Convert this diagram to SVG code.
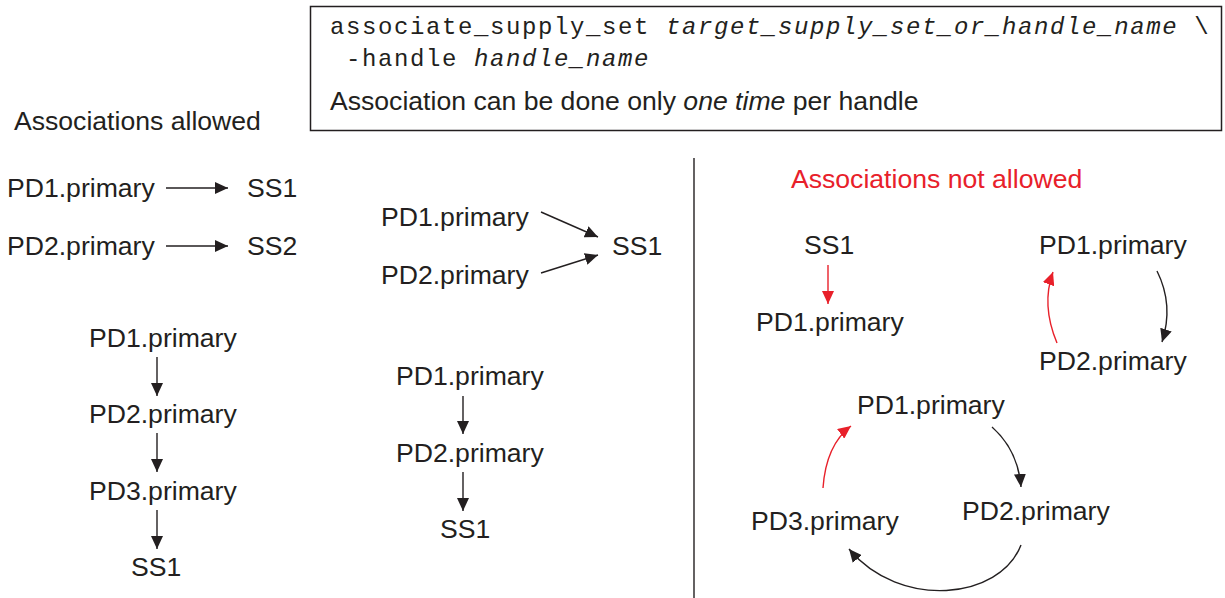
<svg xmlns="http://www.w3.org/2000/svg" width="1225" height="598" viewBox="0 0 1225 598">
<style>
.t{font-family:"Liberation Sans",Arial,sans-serif;font-size:26.6px;fill:#231f20}
.r{fill:#e8202a}
.m{font-family:"Liberation Mono","Courier New",monospace;font-size:24px;fill:#231f20;letter-spacing:1.6px}
.i{font-style:italic}
.k{fill:none;stroke:#231f20;stroke-width:1.4}
.kr{fill:none;stroke:#e8202a;stroke-width:1.4}
</style>
<defs>
<marker id="ah" markerUnits="userSpaceOnUse" markerWidth="14" markerHeight="12" viewBox="0 0 14 12" refX="13" refY="6" orient="auto"><path d="M0,0 L13,6 L0,12 z" fill="#231f20"/></marker>
<marker id="ahr" markerUnits="userSpaceOnUse" markerWidth="14" markerHeight="12" viewBox="0 0 14 12" refX="13" refY="6" orient="auto"><path d="M0,0 L13,6 L0,12 z" fill="#e8202a"/></marker>
</defs>
<rect width="1225" height="598" fill="#fff"/>
<g id="cmdbox">
<rect x="310.5" y="6.5" width="911" height="124" fill="#fff" stroke="#231f20" stroke-width="1.5"/>
<text class="m" x="330" y="34">associate_supply_set <tspan class="i">target_supply_set_or_handle_name</tspan> \</text>
<text class="m" x="346" y="66">-handle <tspan class="i">handle_name</tspan></text>
<text class="t" x="330" y="110">Association can be done only <tspan class="i">one time</tspan> per handle</text>
</g>
<text class="t" x="14" y="130">Associations allowed</text>
<text class="t r" x="791" y="188">Associations not allowed</text>
<line x1="694" y1="158" x2="694" y2="598" stroke="#231f20" stroke-width="1.4"/>
<g id="a1"><text class="t" x="7" y="197">PD1.primary</text></g>
<g id="a2"><text class="t" x="247" y="197">SS1</text></g>
<g id="a3"><text class="t" x="7" y="255">PD2.primary</text></g>
<g id="a4"><text class="t" x="247" y="255">SS2</text></g>
<g id="b1"><text class="t" x="381" y="226">PD1.primary</text></g>
<g id="b2"><text class="t" x="381" y="284">PD2.primary</text></g>
<g id="b3"><text class="t" x="612" y="255">SS1</text></g>
<g id="c1"><text class="t" x="89" y="347">PD1.primary</text></g>
<g id="c2"><text class="t" x="89" y="423">PD2.primary</text></g>
<g id="c3"><text class="t" x="89" y="500">PD3.primary</text></g>
<g id="c4"><text class="t" x="131" y="576">SS1</text></g>
<g id="d1"><text class="t" x="396" y="385">PD1.primary</text></g>
<g id="d2"><text class="t" x="396" y="462">PD2.primary</text></g>
<g id="d3"><text class="t" x="440" y="538">SS1</text></g>
<g id="e1"><text class="t" x="804" y="254">SS1</text></g>
<g id="e2"><text class="t" x="756" y="331">PD1.primary</text></g>
<g id="f1"><text class="t" x="1039" y="254">PD1.primary</text></g>
<g id="f2"><text class="t" x="1039" y="370">PD2.primary</text></g>
<g id="g1"><text class="t" x="857" y="414">PD1.primary</text></g>
<g id="g2"><text class="t" x="962" y="520">PD2.primary</text></g>
<g id="g3"><text class="t" x="751" y="530">PD3.primary</text></g>
<g id="connectors">
<line class="k" x1="166" y1="188" x2="228" y2="188" marker-end="url(#ah)"/>
<line class="k" x1="166" y1="246" x2="228" y2="246" marker-end="url(#ah)"/>
<line class="k" x1="541" y1="212" x2="598" y2="237" marker-end="url(#ah)"/>
<line class="k" x1="541" y1="273" x2="598" y2="255" marker-end="url(#ah)"/>
<line class="k" x1="157" y1="357" x2="157" y2="396" marker-end="url(#ah)"/>
<line class="k" x1="157" y1="433" x2="157" y2="472" marker-end="url(#ah)"/>
<line class="k" x1="157" y1="510" x2="157" y2="549" marker-end="url(#ah)"/>
<line class="k" x1="463" y1="396" x2="463" y2="434" marker-end="url(#ah)"/>
<line class="k" x1="463" y1="472" x2="463" y2="511" marker-end="url(#ah)"/>
<line class="kr" x1="828" y1="265" x2="828" y2="304" marker-end="url(#ahr)"/>
<path class="k" d="M1157,271 Q1174,305 1162,342" marker-end="url(#ah)"/>
<path class="kr" d="M1057,343 Q1041,305 1053,272" marker-end="url(#ahr)"/>
<path class="k" d="M992,427 Q1018,450 1021,487" marker-end="url(#ah)"/>
<path class="k" d="M1021,545 C1000,600 900,610 849,549" marker-end="url(#ah)"/>
<path class="kr" d="M823,488 Q826,445 851,426" marker-end="url(#ahr)"/>
</g>
</svg>
